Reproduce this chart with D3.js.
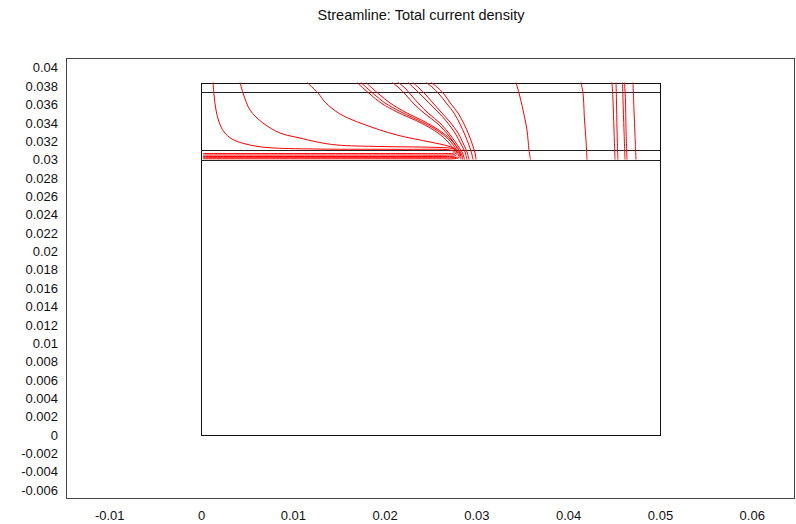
<!DOCTYPE html>
<html><head><meta charset="utf-8">
<script src="https://cdn.jsdelivr.net/npm/d3@7"></script>
<style>
html,body{margin:0;padding:0;background:#fff;}
svg text{font-family:"Liberation Sans",Arial,sans-serif;fill:#111;}
</style></head>
<body><svg id="chart" width="796" height="524"></svg>
<script>
// ---- data (metres) ----
const title = "Streamline: Total current density";
const xTicks = [-0.01, 0, 0.01, 0.02, 0.03, 0.04, 0.05, 0.06];
const xTickLabels = ["-0.01","0","0.01","0.02","0.03","0.04","0.05","0.06"];
const yTicks = [0.04,0.038,0.036,0.034,0.032,0.03,0.028,0.026,0.024,0.022,0.02,0.018,0.016,0.014,0.012,0.01,0.008,0.006,0.004,0.002,0,-0.002,-0.004,-0.006];
const yTickLabels = ["0.04","0.038","0.036","0.034","0.032","0.03","0.028","0.026","0.024","0.022","0.02","0.018","0.016","0.014","0.012","0.01","0.008","0.006","0.004","0.002","0","-0.002","-0.004","-0.006"];
const xDomain = [-0.01471, 0.06471];
const yDomain = [-0.00697, 0.04107];
// geometry: outer block and interface heights
const blockX = [0, 0.05];
const blockY = [0, 0.0384];
const interfaces = [0.03, 0.031, 0.0374];

// streamlines
const sL1 = [[0.00131,0.0384],[0.00142,0.03704],[0.00163,0.0354],[0.00196,0.0341],[0.00251,0.03301],[0.00338,0.03224],[0.00468,0.03175],[0.00621,0.03143],[0.00806,0.03126],[0.01296,0.03115],[0.02168,0.03112],[0.02669,0.0311],[0.02734,0.031],[0.02762,0.03083],[0.02745,0.0307],[0.02669,0.03066],[0.02168,0.03066],[0.00022,0.03066]];
const sL2 = [[0.00425,0.0384],[0.00458,0.03725],[0.00534,0.0354],[0.00675,0.03399],[0.00861,0.0329],[0.01078,0.03235],[0.01264,0.03192],[0.01481,0.03159],[0.0195,0.03143],[0.02603,0.03132],[0.02734,0.03121],[0.02772,0.031],[0.02778,0.03072],[0.02756,0.03055],[0.02691,0.0305],[0.02168,0.0305],[0.00022,0.0305]];
const sL3 = [[0.01155,0.0384],[0.01275,0.03725],[0.01351,0.03627],[0.01514,0.03497],[0.01765,0.03388],[0.02135,0.03268],[0.02495,0.03192],[0.02691,0.03148],[0.02767,0.03115],[0.0279,0.03072],[0.02778,0.03045],[0.02734,0.03034],[0.02658,0.03034],[0.00022,0.03034]];
const sF1 = [[0.01699,0.0384],[0.01765,0.0378],[0.01852,0.03704],[0.01961,0.03617],[0.02135,0.03519],[0.02397,0.03399],[0.02582,0.0329],[0.02691,0.03192],[0.02756,0.03115],[0.02798,0.03075],[0.02805,0.0304],[0.0278,0.03024],[0.02734,0.03021],[0.02603,0.03021],[0.00022,0.03021]];
const sF2 = [[0.01743,0.0384],[0.01808,0.0378],[0.01895,0.03704],[0.02004,0.03617],[0.02179,0.03519],[0.02429,0.03399],[0.02614,0.0329],[0.02723,0.03192],[0.02778,0.03115],[0.02816,0.03066],[0.0281,0.03023],[0.02745,0.03009],[0.02603,0.03009],[0.00022,0.03009]];
const sF3 = [[0.01797,0.0384],[0.01863,0.0378],[0.0195,0.03704],[0.02059,0.03617],[0.02222,0.03519],[0.02462,0.03399],[0.02636,0.0329],[0.02745,0.03192],[0.028,0.03115],[0.02827,0.0305],[0.02832,0.03]];
const sG1 = [[0.02081,0.0384],[0.02146,0.03791],[0.02233,0.03704],[0.0232,0.03606],[0.02429,0.03508],[0.02582,0.03388],[0.02702,0.03257],[0.02778,0.03148],[0.02832,0.03072],[0.02854,0.03]];
const sG2 = [[0.02146,0.0384],[0.02211,0.03791],[0.02288,0.03704],[0.02375,0.03606],[0.02473,0.03508],[0.02614,0.03388],[0.02723,0.03257],[0.028,0.03148],[0.02849,0.03072],[0.0287,0.03]];
const sK1 = [[0.02255,0.0384],[0.0232,0.0378],[0.02397,0.03704],[0.02484,0.03617],[0.02582,0.03519],[0.0268,0.0341],[0.02767,0.0329],[0.02832,0.0317],[0.02876,0.03083],[0.02898,0.03]];
const sK2 = [[0.02309,0.0384],[0.02375,0.0378],[0.02451,0.03704],[0.02527,0.03617],[0.02614,0.03519],[0.02712,0.0341],[0.028,0.0329],[0.02859,0.0317],[0.02898,0.03083],[0.02919,0.03]];
const sH1 = [[0.02451,0.0384],[0.02516,0.03791],[0.02593,0.03715],[0.0268,0.03606],[0.02756,0.03508],[0.02821,0.03388],[0.02876,0.03268],[0.02919,0.03159],[0.02947,0.03072],[0.02963,0.03]];
const sH2 = [[0.02505,0.0384],[0.02571,0.03791],[0.02647,0.03715],[0.02723,0.03606],[0.028,0.03508],[0.02865,0.03388],[0.02919,0.03268],[0.02958,0.03159],[0.02985,0.03072],[0.02996,0.03]];
const sR1 = [[0.03431,0.0384],[0.03464,0.03725],[0.03508,0.0354],[0.03551,0.03322],[0.03573,0.03105],[0.03589,0.03]];
const sR2 = [[0.04139,0.0384],[0.04161,0.03725],[0.04178,0.03431],[0.04194,0.03214],[0.04205,0.03]];
const sR3 = [[0.04477,0.0384],[0.04488,0.03649],[0.04499,0.03322],[0.0451,0.03]];
const sR4 = [[0.04521,0.0384],[0.04526,0.03649],[0.04532,0.03322],[0.04542,0.03]];
const sR5 = [[0.04592,0.0384],[0.04597,0.03649],[0.04608,0.03322],[0.04619,0.03]];
const sR6 = [[0.04613,0.0384],[0.04624,0.03649],[0.0463,0.03322],[0.04641,0.03]];
const sR7 = [[0.04706,0.0384],[0.04717,0.0354],[0.04728,0.03268],[0.04739,0.03]];
const streamlines = [sL1,sL2,sL3,sF1,sF2,sF3,sG1,sG2,sK1,sK2,sH1,sH2,sR1,sR2,sR3,sR4,sR5,sR6,sR7];

// ---- layout ----
const frame = {left:66, top:58, right:795, bottom:499};
const svg = d3.select("#chart");
const x = d3.scaleLinear().domain(xDomain).range([frame.left, frame.right]);
const y = d3.scaleLinear().domain(yDomain).range([frame.bottom, frame.top]);

svg.append("text").attr("x", 421).attr("y", 20).attr("text-anchor","middle")
  .style("font-size","14.5px").text(title);

svg.append("defs").append("clipPath").attr("id","clip").append("rect")
  .attr("x",frame.left).attr("y",frame.top).attr("width",frame.right-frame.left).attr("height",frame.bottom-frame.top);

// frame
svg.append("rect").attr("x",frame.left+0.5).attr("y",frame.top+0.5)
  .attr("width",frame.right-frame.left-1).attr("height",frame.bottom-frame.top-1)
  .attr("fill","none").attr("stroke","#444").attr("stroke-width",1);

// axes (labels only)
const xAxis = d3.axisBottom(x).tickValues(xTicks).tickSize(0).tickPadding(0)
  .tickFormat((d,i)=>xTickLabels[i]);
const gx = svg.append("g").attr("transform",`translate(0,${frame.bottom+12})`).call(xAxis);
gx.select(".domain").remove();
gx.selectAll("text").style("font-size","13px").attr("fill","#111").attr("dy","0.71em");

const yAxis = d3.axisLeft(y).tickValues(yTicks).tickSize(0).tickPadding(0)
  .tickFormat((d,i)=>yTickLabels[i]);
const gy = svg.append("g").attr("transform",`translate(${frame.left-8},0)`).call(yAxis);
gy.select(".domain").remove();
gy.selectAll("text").style("font-size","13px").attr("fill","#111");

const plot = svg.append("g").attr("clip-path","url(#clip)");

// geometry
plot.append("rect")
  .attr("x", Math.round(x(blockX[0]))+0.5).attr("y", Math.round(y(blockY[1]))+0.5)
  .attr("width", Math.round(x(blockX[1]))-Math.round(x(blockX[0])))
  .attr("height", Math.round(y(blockY[0]))-Math.round(y(blockY[1])))
  .attr("fill","none").attr("stroke","#111").attr("stroke-width",1);
plot.selectAll("line.iface").data(interfaces).enter().append("line").attr("class","iface")
  .attr("x1", x(blockX[0])).attr("x2", x(blockX[1]))
  .attr("y1", d=>Math.round(y(d))+0.5).attr("y2", d=>Math.round(y(d))+0.5)
  .attr("stroke","#222").attr("stroke-width",1);

// streamlines
const line = d3.line().x(d=>x(d[0])).y(d=>y(d[1])).curve(d3.curveCatmullRom.alpha(0.5));
plot.selectAll("path.sl").data(streamlines).enter().append("path").attr("class","sl")
  .attr("d", line).attr("fill","none").attr("stroke","#ff0000").attr("stroke-width",1);
</script></body></html>
